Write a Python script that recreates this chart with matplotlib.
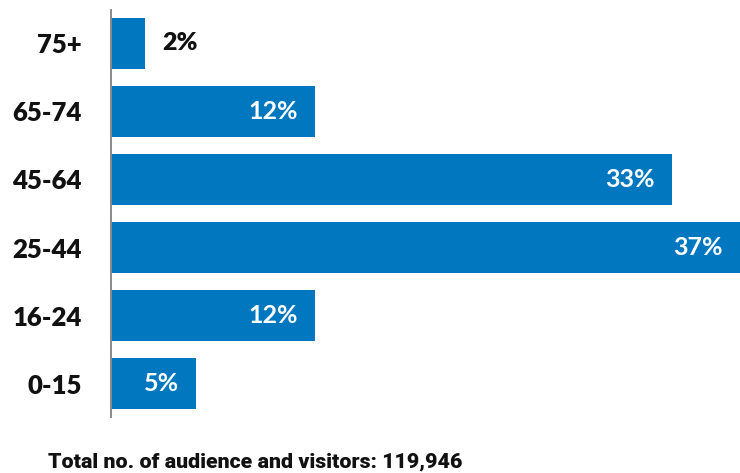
import matplotlib
matplotlib.use("Agg")
import matplotlib.pyplot as plt

# Audience age profile
age_groups = ["0-15", "16-24", "25-44", "45-64", "65-74", "75+"]
shares = [5, 12, 37, 33, 12, 2]
total_label = "Total no. of audience and visitors: 119,946"

bar_color = "#0177bf"
font = ["Lato", "DejaVu Sans"]
heavy_font = ["Roboto", "DejaVu Sans"]

fig = plt.figure(figsize=(7.40, 4.73), dpi=100)
ax = fig.add_axes([111 / 740, (473 - 417) / 473, 1 - 111 / 740, (417 - 10) / 473])

ypos = list(range(len(age_groups)))
ax.barh(ypos, shares, height=0.75, color=bar_color, edgecolor="none")

ax.set_xlim(0, 37)
ax.set_ylim(-0.4926, len(age_groups) - 1 + 0.4926)

for spine in ["top", "right", "bottom"]:
    ax.spines[spine].set_visible(False)
ax.spines["left"].set_color("#8a8a8a")
ax.spines["left"].set_linewidth(1.4)
ax.set_xticks([])
ax.set_yticks(ypos)
ax.set_yticklabels(age_groups, family=font, fontweight="heavy", fontsize=18.5, color="#111111")
ax.tick_params(axis="y", length=0, pad=21)

# Value labels: inside the bar in white, or beside short bars in black
pt_per_px = 72 / 100
for y, v in zip(ypos, shares):
    if v >= 4:
        ax.annotate(f"{v}%", xy=(v, y), xytext=(-17 * pt_per_px, 0), textcoords="offset points",
                    ha="right", va="center", color="white", family=font,
                    fontweight="bold", fontsize=18)
    else:
        ax.annotate(f"{v}%", xy=(v, y), xytext=(17 * pt_per_px, 0), textcoords="offset points",
                    ha="left", va="center", color="#111111", family=font,
                    fontweight="heavy", fontsize=18)

fig.text(48 / 740, 1 - 462 / 473, total_label, family=heavy_font, fontweight="black",
         fontsize=15.4, color="#111111", ha="left", va="center")

fig.savefig("out.png", dpi=100)
